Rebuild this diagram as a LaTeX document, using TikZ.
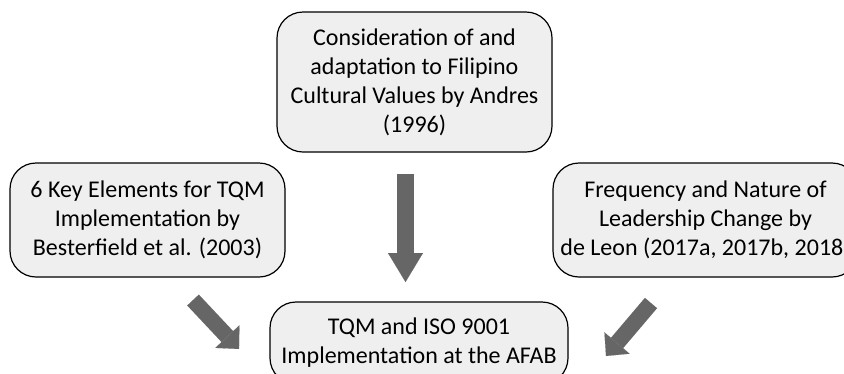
\documentclass[tikz,border=0pt]{standalone}
\usepackage{fontspec}
\setmainfont{Carlito}
\usetikzlibrary{arrows.meta}

\definecolor{boxgray}{RGB}{239,239,239}
\definecolor{arrowgray}{RGB}{102,102,102}

\tikzset{
  srcbox/.style={draw=black, line width=1.2pt, fill=boxgray, rounded corners=26pt,
    align=center, inner sep=0pt, font=\fontsize{24}{29}\selectfont},
  fatarrow/.style={arrowgray, line width=17pt,
    -{Triangle[width=35pt,length=29pt,line width=0.1pt]}},
  diagarrow/.style={arrowgray, line width=16pt,
    -{Triangle[width=33pt,length=17pt,line width=0.1pt]}},
}

\begin{document}
\begin{tikzpicture}[x=1pt, y=-1pt]
    % Canvas
    \useasboundingbox (0,0) rectangle (844,373);
    \clip (0,0) rectangle (844,373);
    \fill[white] (0,0) rectangle (844,373);

    % Sources
    \node[srcbox, minimum width=275pt, minimum height=140pt] (andres) at (414.5,82)
        {Consideration of and\\adaptation to Filipino\\Cultural Values by Andres\\(1996)};
    \node[srcbox, minimum width=275pt, minimum height=114pt] (besterfield) at (147.5,220)
        {6 Key Elements for TQM\\Implementation by\\Besterfield et al. (2003)};
    \node[srcbox, minimum width=305pt, minimum height=114pt] (deleon) at (705.5,220)
        {Frequency and Nature of\\Leadership Change by\\de Leon (2017a, 2017b, 2018)};

    % Target
    \node[srcbox, minimum width=298pt, minimum height=82pt] (afab) at (419,343)
        {TQM and ISO 9001\\Implementation at the AFAB};

    % Arrow ends
    \coordinate (andres-out) at (405.5,174);
    \coordinate (andres-in) at (405.5,282);
    \coordinate (besterfield-out) at (193,300);
    \coordinate (besterfield-in) at (239,349);
    \coordinate (deleon-out) at (651,303);
    \coordinate (deleon-in) at (606,356);

    % Arrows
    \draw[fatarrow] (andres-out) -- (andres-in);
    \draw[diagarrow] (besterfield-out) -- (besterfield-in);
    \draw[diagarrow] (deleon-out) -- (deleon-in);
\end{tikzpicture}
\end{document}
